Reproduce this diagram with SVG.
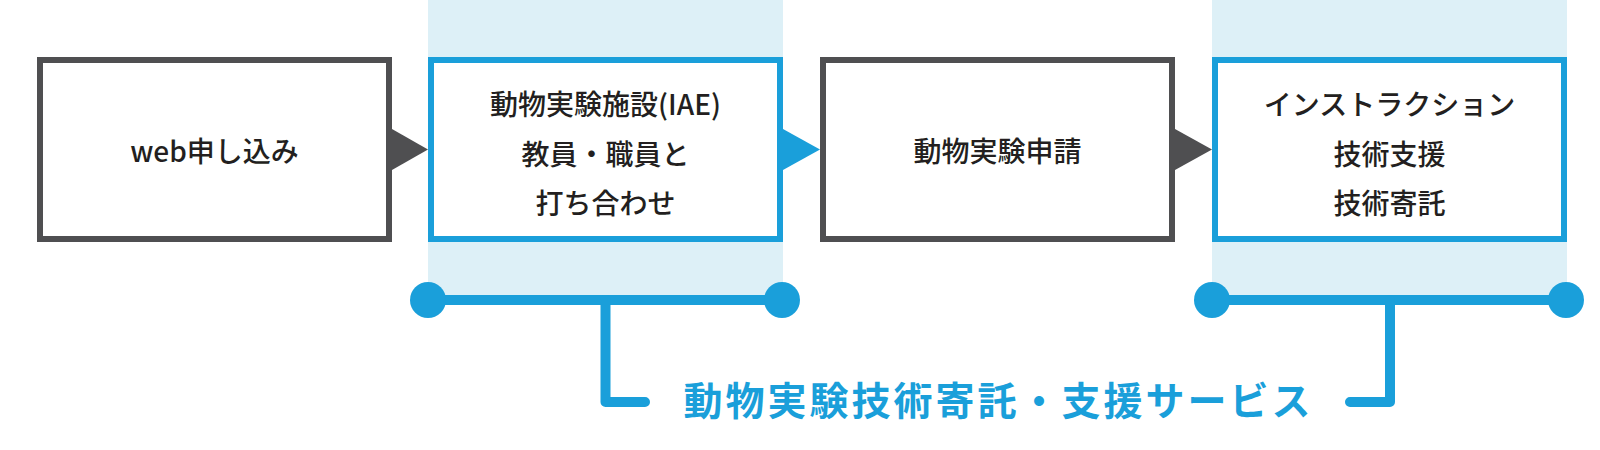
<svg xmlns="http://www.w3.org/2000/svg" width="1600" height="450" viewBox="0 0 1600 450">
<style>
.box{fill:#fff;stroke-width:6}
.gray{stroke:#4f4f51}
.blue{stroke:#1a9fda}
.band{fill:#ddf0f7}
.t{font-family:"Noto Sans CJK JP","Noto Sans",sans-serif;font-weight:500;font-size:28px;fill:#231f20;text-anchor:middle;dominant-baseline:central}
.title{font-family:"Noto Sans CJK JP","Noto Sans",sans-serif;font-weight:bold;font-size:39px;fill:#1a9fda;text-anchor:middle;dominant-baseline:central;letter-spacing:3px}
.ln{fill:none;stroke:#1a9fda;stroke-width:10;stroke-linecap:round;stroke-linejoin:round}
.dot{fill:#1a9fda}
</style>
<rect class="band" x="428" y="0" width="355" height="300"/>
<rect class="band" x="1212" y="0" width="355" height="300"/>
<g id="connectors">
<path d="M392,129 L428,149.5 L392,170 Z" fill="#4f4f51"/>
<path d="M783,129 L820,149.5 L783,170 Z" fill="#1a9fda"/>
<path d="M1175,129 L1212,149.5 L1175,170 Z" fill="#4f4f51"/>
<line x1="428" y1="300" x2="782" y2="300" class="ln" stroke-linecap="butt"/>
<circle class="dot" cx="428" cy="300" r="18"/>
<circle class="dot" cx="782" cy="300" r="18"/>
<path class="ln" d="M605.5,300 V402 H645"/>
<line x1="1212" y1="300" x2="1566" y2="300" class="ln" stroke-linecap="butt"/>
<circle class="dot" cx="1212" cy="300" r="18"/>
<circle class="dot" cx="1566" cy="300" r="18"/>
<path class="ln" d="M1390,300 V402 H1350"/>
</g>
<g id="node1">
<rect class="box gray" x="40" y="60" width="349" height="179"/>
<text class="t" x="214.5" y="150">web申し込み</text>
</g>
<g id="node2">
<rect class="box blue" x="431" y="60" width="349" height="179"/>
<text class="t" x="605.5" y="103">動物実験施設(IAE)</text>
<text class="t" x="605.5" y="153">教員・職員と</text>
<text class="t" x="605.5" y="202">打ち合わせ</text>
</g>
<g id="node3">
<rect class="box gray" x="823" y="60" width="349" height="179"/>
<text class="t" x="997.5" y="150">動物実験申請</text>
</g>
<g id="node4">
<rect class="box blue" x="1215" y="60" width="349" height="179"/>
<text class="t" x="1389.5" y="103">インストラクション</text>
<text class="t" x="1389.5" y="153">技術支援</text>
<text class="t" x="1389.5" y="202">技術寄託</text>
</g>
<g id="label">
<text class="title" x="998.5" y="398">動物実験技術寄託・支援サービス</text>
</g>
</svg>
